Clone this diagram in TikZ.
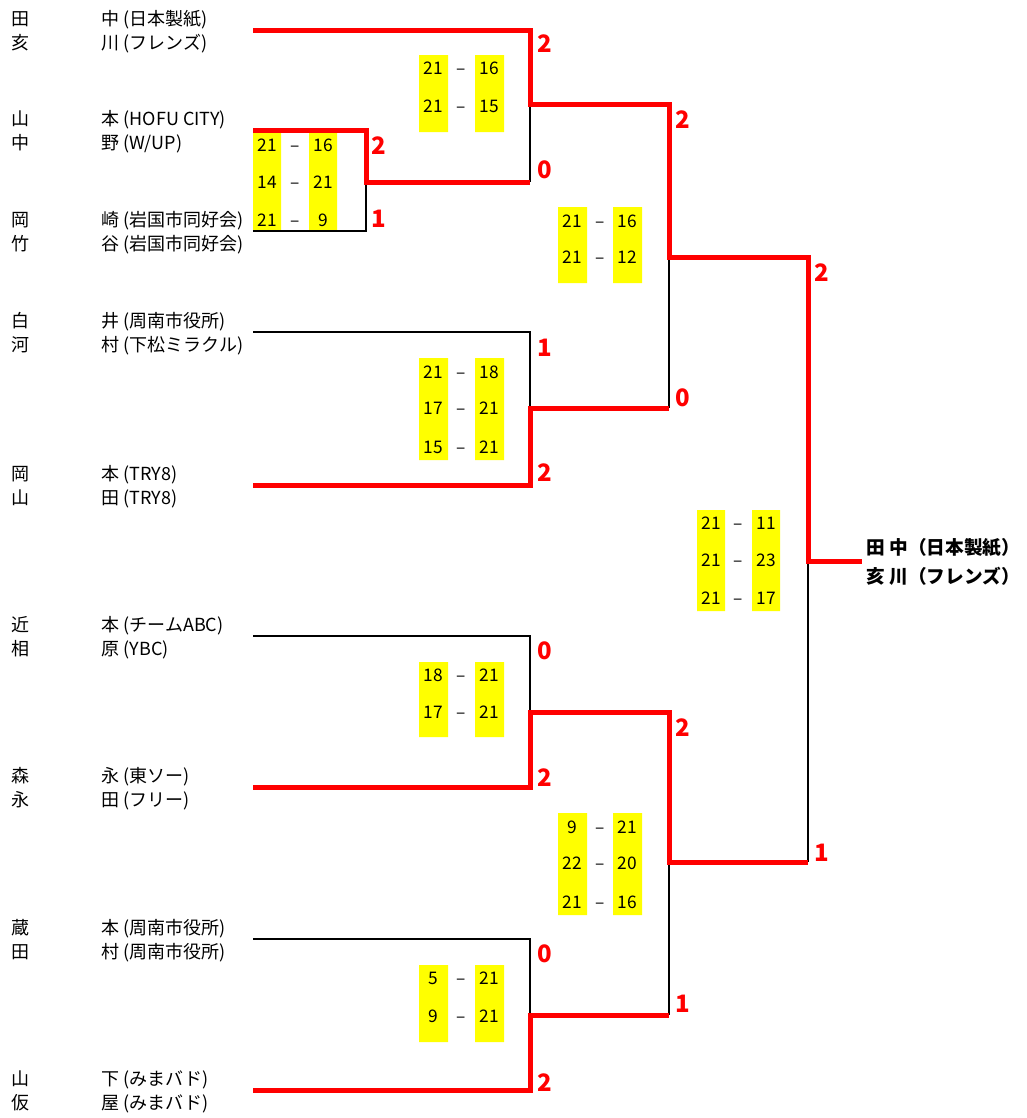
\documentclass[tikz,border=0pt]{standalone}
\usepackage{fontspec}
\setmainfont{Noto Sans CJK JP}
\tikzset{every picture/.style={line width=0.75pt}}
\tikzset{
	winline/.style={draw={rgb, 255:red, 255; green, 0; blue, 0}, line width=3.75pt},
	loseline/.style={draw=black, line width=1.3pt},
	player/.style={anchor=base west, inner sep=0pt, font=\fontsize{13.5}{15}\selectfont},
	game/.style={anchor=base, inner sep=0pt, font=\fontsize{13}{15}\selectfont},
	setcount/.style={anchor=base, inner sep=0pt, text={rgb, 255:red, 255; green, 0; blue, 0}, font=\fontsize{18}{20}\selectfont\bfseries},
	champion/.style={anchor=base west, inner sep=0pt, font=\fontsize{14}{16}\selectfont\bfseries},
	scorebg/.style={fill={rgb, 255:red, 255; green, 255; blue, 0}}}
\begin{document}
\begin{tikzpicture}[x=0.75pt,y=0.75pt,yscale=-1,xscale=1]
	\useasboundingbox (0,0) rectangle (1027,1118);

	%Shape: Score backgrounds
	\fill[scorebg] (253,133) rectangle (281,231) (309,133) rectangle (337,231);
	\fill[scorebg] (419,55) rectangle (448,132) (475,55) rectangle (504,132);
	\fill[scorebg] (419,358) rectangle (448,460) (475,358) rectangle (504,460);
	\fill[scorebg] (419,662) rectangle (448,737) (475,662) rectangle (504,737);
	\fill[scorebg] (419,965) rectangle (448,1042) (475,965) rectangle (504,1042);
	\fill[scorebg] (558,207) rectangle (587,283) (613,207) rectangle (642,283);
	\fill[scorebg] (558,813) rectangle (587,915) (613,813) rectangle (642,915);
	\fill[scorebg] (697,510) rectangle (725,611) (752,510) rectangle (780,611);

	%Coordinates: bracket ends and joints
	\coordinate (t1) at (253,30);
	\coordinate (t2) at (253,130);
	\coordinate (t3) at (253,231);
	\coordinate (t4) at (253,332);
	\coordinate (t5) at (253,485);
	\coordinate (t6) at (253,636);
	\coordinate (t7) at (253,787);
	\coordinate (t8) at (253,939);
	\coordinate (t9) at (253,1090);
	\coordinate (r0) at (366,182);
	\coordinate (r1a) at (530,104);
	\coordinate (r1b) at (530,408);
	\coordinate (r1c) at (530,712);
	\coordinate (r1d) at (530,1015);
	\coordinate (r2a) at (669,257);
	\coordinate (r2b) at (669,862);
	\coordinate (fin) at (808,561);
	\coordinate (champ) at (862,561);

	%Straight Lines: losers
	\draw[loseline] (t3) -| (r0);
	\draw[loseline] (r0 -| r1a) -- (r1a);
	\draw[loseline] (t4) -| (r1b);
	\draw[loseline] (r1b -| r2a) -- (r2a);
	\draw[loseline] (t6) -| (r1c);
	\draw[loseline] (r2b -| fin) -- (fin);
	\draw[loseline] (t8) -| (r1d);
	\draw[loseline] (r1d -| r2b) -- (r2b);
	%Straight Lines: winners
	\draw[winline] (t1) -| (r1a) -| (r2a) -| (fin) -- (champ);
	\draw[winline] (t2) -| (r0) -- (r0 -| r1a);
	\draw[winline] (t5) -| (r1b) -- (r1b -| r2a);
	\draw[winline] (t7) -| (r1c) -| (r2b) -- (r2b -| fin);
	\draw[winline] (t9) -| (r1d) -- (r1d -| r2b);

	% Text Node: players
	\node[player] (p1a) at (11,25.5) {田};
	\node[player] (p1b) at (101,25.5) {中 (日本製紙)};
	\node[player] (p1c) at (11,49.5) {亥};
	\node[player] (p1d) at (101,49.5) {川 (フレンズ)};
	\node[player] (p2a) at (11,125.5) {山};
	\node[player] (p2b) at (101,125.5) {本 (HOFU CITY)};
	\node[player] (p2c) at (11,149.5) {中};
	\node[player] (p2d) at (101,149.5) {野 (W/UP)};
	\node[player] (p3a) at (11,226.5) {岡};
	\node[player] (p3b) at (101,226.5) {崎 (岩国市同好会)};
	\node[player] (p3c) at (11,250.5) {竹};
	\node[player] (p3d) at (101,250.5) {谷 (岩国市同好会)};
	\node[player] (p4a) at (11,327.5) {白};
	\node[player] (p4b) at (101,327.5) {井 (周南市役所)};
	\node[player] (p4c) at (11,351.5) {河};
	\node[player] (p4d) at (101,351.5) {村 (下松ミラクル)};
	\node[player] (p5a) at (11,480.5) {岡};
	\node[player] (p5b) at (101,480.5) {本 (TRY8)};
	\node[player] (p5c) at (11,504.5) {山};
	\node[player] (p5d) at (101,504.5) {田 (TRY8)};
	\node[player] (p6a) at (11,631.5) {近};
	\node[player] (p6b) at (101,631.5) {本 (チームABC)};
	\node[player] (p6c) at (11,655.5) {相};
	\node[player] (p6d) at (101,655.5) {原 (YBC)};
	\node[player] (p7a) at (11,782.5) {森};
	\node[player] (p7b) at (101,782.5) {永 (東ソー)};
	\node[player] (p7c) at (11,806.5) {永};
	\node[player] (p7d) at (101,806.5) {田 (フリー)};
	\node[player] (p8a) at (11,934.5) {蔵};
	\node[player] (p8b) at (101,934.5) {本 (周南市役所)};
	\node[player] (p8c) at (11,958.5) {田};
	\node[player] (p8d) at (101,958.5) {村 (周南市役所)};
	\node[player] (p9a) at (11,1085.5) {山};
	\node[player] (p9b) at (101,1085.5) {下 (みまバド)};
	\node[player] (p9c) at (11,1109.5) {仮};
	\node[player] (p9d) at (101,1109.5) {屋 (みまバド)};

	% Text Node: champion
	\node[champion] (w1) at (866,554.5) {田 中（日本製紙）};
	\node[champion] (w2) at (866,583.5) {亥 川（フレンズ）};

	% Text Node: game scores
	\foreach \n/\y/\a/\b in {1/151/21/16, 2/188/14/21, 3/226/21/9}
		\node[game] (g0l\n) at (267,\y) {\a} node[game] (g0m\n) at (295,\y) {–} node[game] (g0r\n) at (323,\y) {\b};
	\foreach \n/\y/\a/\b in {1/74/21/16, 2/112/21/15}
		\node[game] (g1l\n) at (433.5,\y) {\a} node[game] (g1m\n) at (461,\y) {–} node[game] (g1r\n) at (489.5,\y) {\b};
	\foreach \n/\y/\a/\b in {1/378/21/18, 2/414/17/21, 3/453/15/21}
		\node[game] (g2l\n) at (433.5,\y) {\a} node[game] (g2m\n) at (461,\y) {–} node[game] (g2r\n) at (489.5,\y) {\b};
	\foreach \n/\y/\a/\b in {1/681/18/21, 2/718/17/21}
		\node[game] (g3l\n) at (433.5,\y) {\a} node[game] (g3m\n) at (461,\y) {–} node[game] (g3r\n) at (489.5,\y) {\b};
	\foreach \n/\y/\a/\b in {1/984/5/21, 2/1022/9/21}
		\node[game] (g4l\n) at (433.5,\y) {\a} node[game] (g4m\n) at (461,\y) {–} node[game] (g4r\n) at (489.5,\y) {\b};
	\foreach \n/\y/\a/\b in {1/227/21/16, 2/263/21/12}
		\node[game] (g5l\n) at (572.5,\y) {\a} node[game] (g5m\n) at (600,\y) {–} node[game] (g5r\n) at (627.5,\y) {\b};
	\foreach \n/\y/\a/\b in {1/833/9/21, 2/869/22/20, 3/908/21/16}
		\node[game] (g6l\n) at (572.5,\y) {\a} node[game] (g6m\n) at (600,\y) {–} node[game] (g6r\n) at (627.5,\y) {\b};
	\foreach \n/\y/\a/\b in {1/529/21/11, 2/566/21/23, 3/604/21/17}
		\node[game] (g7l\n) at (711,\y) {\a} node[game] (g7m\n) at (738,\y) {–} node[game] (g7r\n) at (766,\y) {\b};

	% Text Node: set counts
	\node[setcount] (s0a) at (379,154) {2};
	\node[setcount] (s0b) at (379,227) {1};
	\node[setcount] (s1a) at (545,52) {2};
	\node[setcount] (s1b) at (545,178) {0};
	\node[setcount] (s2a) at (545,356) {1};
	\node[setcount] (s2b) at (545,481) {2};
	\node[setcount] (s3a) at (545,659) {0};
	\node[setcount] (s3b) at (545,786) {2};
	\node[setcount] (s4a) at (545,962) {0};
	\node[setcount] (s4b) at (545,1091) {2};
	\node[setcount] (s5a) at (683,128) {2};
	\node[setcount] (s5b) at (683,406) {0};
	\node[setcount] (s6a) at (683,736) {2};
	\node[setcount] (s6b) at (683,1012) {1};
	\node[setcount] (s7a) at (822,281) {2};
	\node[setcount] (s7b) at (822,861) {1};

\end{tikzpicture}
\end{document}
